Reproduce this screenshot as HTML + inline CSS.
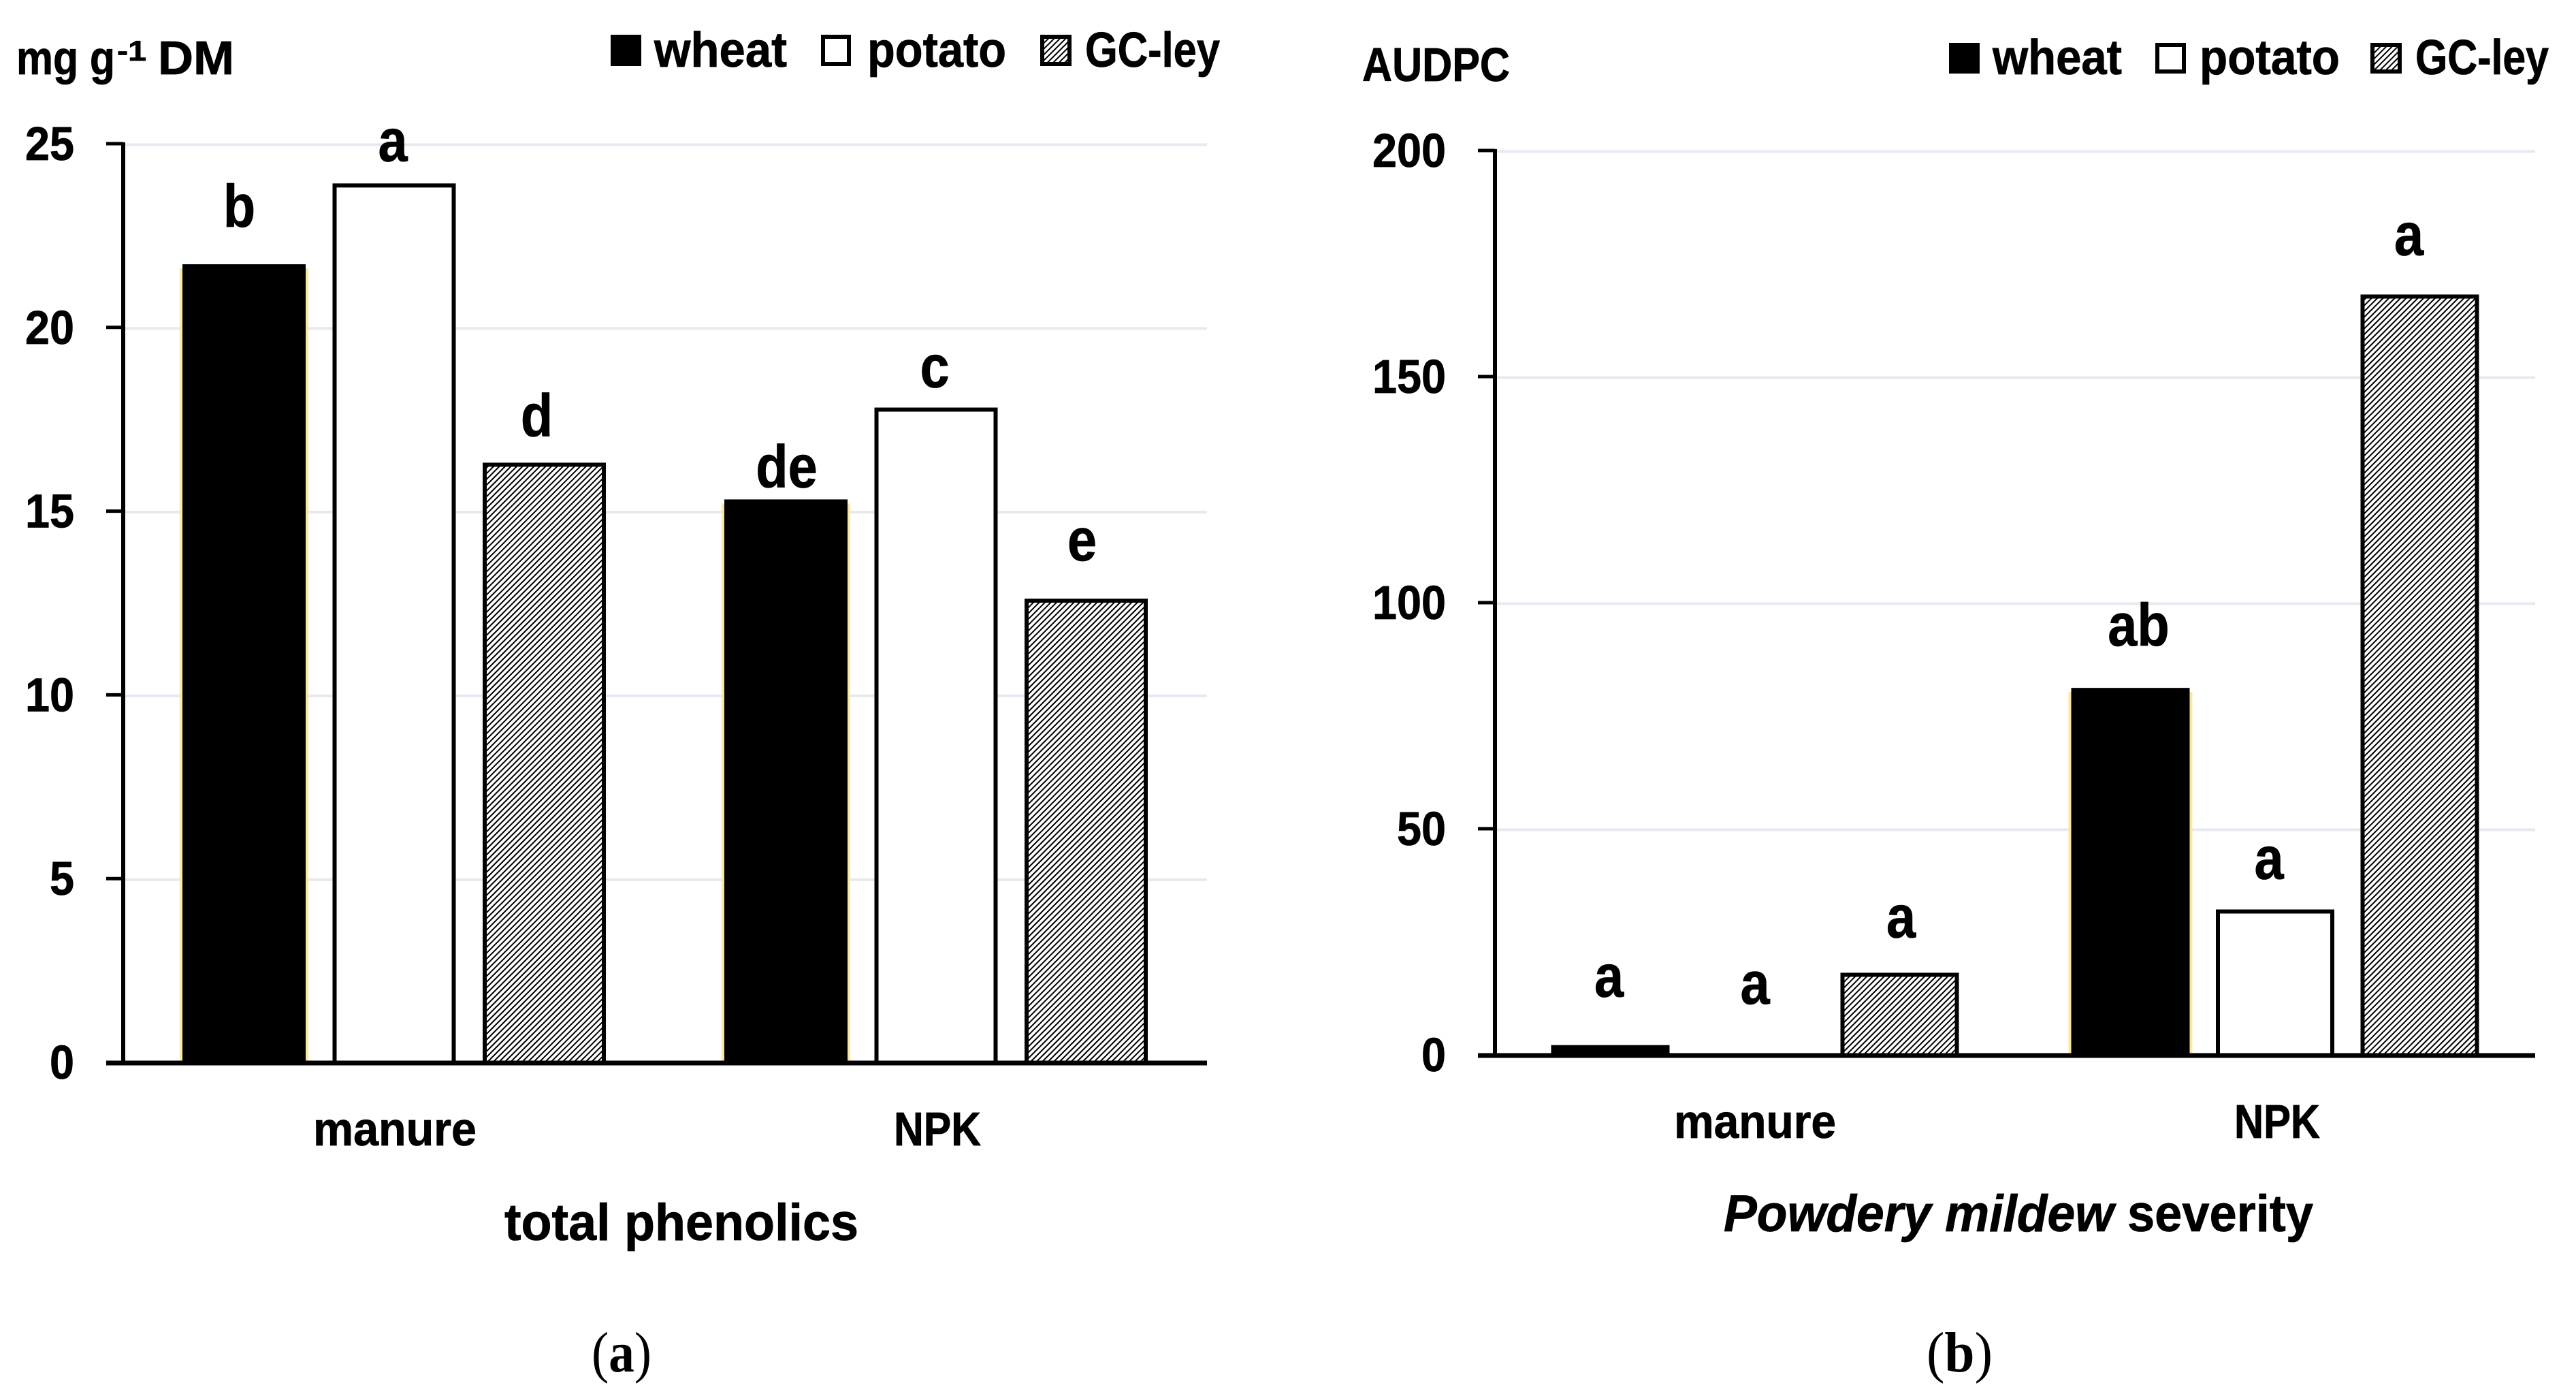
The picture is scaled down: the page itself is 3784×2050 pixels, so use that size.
<!DOCTYPE html>
<html lang="en">
<head>
<meta charset="utf-8">
<title>Total phenolics and powdery mildew severity</title>
<style>
  html, body { margin: 0; padding: 0; background: #fff; width: 3784px; height: 2050px; overflow: hidden; }
  svg { display: block; }
  text { font-family: "Liberation Sans", sans-serif; font-weight: 700; fill: #000; stroke: #000; stroke-width: 0.8px; }
  .cap { font-family: "Liberation Serif", serif; stroke-width: 0; }
</style>
</head>
<body>
<svg id="figure" xmlns="http://www.w3.org/2000/svg" width="3784" height="2050" viewBox="0 0 3784 2050">
  <defs>
    <pattern id="hatch" width="6" height="6" patternUnits="userSpaceOnUse" patternTransform="rotate(-45)">
      <rect width="6" height="6" fill="#fff"/>
      <rect width="6" height="2" fill="#000"/>
    </pattern>
  </defs>
  <rect width="3784" height="2050" fill="#fff"/>

  <g id="panel-a">
    <g>
      <text x="24" y="109" font-size="70" textLength="145" lengthAdjust="spacingAndGlyphs">mg g</text>
      <text x="172" y="89" font-size="42" textLength="43" lengthAdjust="spacingAndGlyphs">-1</text>
      <text x="232" y="109" font-size="70" textLength="112" lengthAdjust="spacingAndGlyphs">DM</text>
    </g>
    <g>
      <rect x="897" y="51" width="45" height="46" fill="#000"/>
      <text x="961" y="98" font-size="72" textLength="195" lengthAdjust="spacingAndGlyphs">wheat</text>
      <rect x="1209" y="54" width="38" height="40" fill="#fff" stroke="#000" stroke-width="6"/>
      <text x="1274" y="98" font-size="72" textLength="204" lengthAdjust="spacingAndGlyphs">potato</text>
      <rect x="1531" y="54" width="40" height="40" fill="url(#hatch)" stroke="#000" stroke-width="6"/>
      <text x="1594" y="98" font-size="72" textLength="198" lengthAdjust="spacingAndGlyphs">GC-ley</text>
    </g>
    <text x="741" y="1821" font-size="76" textLength="520" lengthAdjust="spacingAndGlyphs">total phenolics</text>
    <text class="cap" x="869" y="2014" font-size="84" textLength="88" lengthAdjust="spacingAndGlyphs" style="font-weight:400">(<tspan style="font-weight:700">a</tspan>)</text>
  </g>

  <g id="panel-b">
    <text x="2001" y="119" font-size="70" textLength="217" lengthAdjust="spacingAndGlyphs">AUDPC</text>
    <g>
      <rect x="2863" y="63" width="45" height="45" fill="#000"/>
      <text x="2927" y="109" font-size="72" textLength="190" lengthAdjust="spacingAndGlyphs">wheat</text>
      <rect x="3169" y="66" width="39" height="39" fill="#fff" stroke="#000" stroke-width="6"/>
      <text x="3231" y="109" font-size="72" textLength="206" lengthAdjust="spacingAndGlyphs">potato</text>
      <rect x="3485" y="66" width="40" height="39" fill="url(#hatch)" stroke="#000" stroke-width="6"/>
      <text x="3548" y="109" font-size="72" textLength="196" lengthAdjust="spacingAndGlyphs">GC-ley</text>
    </g>
    <g>
      <text x="2532" y="1808" font-size="76" font-style="italic" textLength="573" lengthAdjust="spacingAndGlyphs">Powdery mildew</text>
      <text x="3125" y="1808" font-size="76" textLength="273" lengthAdjust="spacingAndGlyphs">severity</text>
    </g>
    <text class="cap" x="2830" y="2014" font-size="84" textLength="97" lengthAdjust="spacingAndGlyphs" style="font-weight:400">(<tspan style="font-weight:700">b</tspan>)</text>
  </g>
</svg>

<script>
const categories = ['manure', 'NPK'];
const phenolicsTicks = [0, 5, 10, 15, 20, 25];
const phenolicsWheat = [21.7, 15.3];
const phenolicsPotato = [23.9, 17.8];
const phenolicsLey = [16.3, 12.6];
const mildewTicks = [0, 50, 100, 150, 200];
const mildewWheat = [2, 81];
const mildewPotato = [0, 32];
const mildewLey = [18, 168];

const NS = 'http://www.w3.org/2000/svg';

function make(parent, tag, attrs, content) {
  const el = document.createElementNS(NS, tag);
  for (const key in attrs) el.setAttribute(key, attrs[key]);
  if (content !== undefined) el.textContent = content;
  parent.appendChild(el);
  return el;
}

function drawPanel(cfg) {
  const g = document.getElementById(cfg.id);
  const yScale = v => cfg.y0 - v * (cfg.y0 - cfg.yTop) / cfg.max;
  const catWidth = (cfg.xRight - cfg.xAxis) / categories.length;
  const catCenter = i => cfg.xAxis + catWidth * (i + 0.5);
  const barCenter = (c, s) => catCenter(c) + (s - 1) * cfg.step;

  cfg.ticks.forEach(t => {
    if (t !== 0) {
      const grid = make(g, 'line', { x1: cfg.xAxis, x2: cfg.xRight, y1: yScale(t) + 0.5, y2: yScale(t) + 0.5, stroke: '#e6e9ef', 'stroke-width': 4 });
      
      
    }
    const tick = make(g, 'line', { x1: cfg.xAxis - 25, x2: cfg.xAxis, y1: yScale(t) - 1, y2: yScale(t) - 1, stroke: '#000', 'stroke-width': 5 });
    
    
    const label = make(g, 'text', { x: cfg.tickRight, y: yScale(t) + 23, 'font-size': 70, 'text-anchor': 'end', textLength: String(t).length * 36, lengthAdjust: 'spacingAndGlyphs' }, String(t));
    
    
  });

  const seriesKinds = ['wheat', 'potato', 'gc-ley'];
  cfg.series.forEach((vals, s) => {
    vals.forEach((v, c) => {
      const cx = barCenter(c, s);
      const top = yScale(v) - 2;
      if (s === 0 && cfg.fringe[c]) {
        const fringe = make(g, 'rect', { x: cx - cfg.barW / 2 - 4, y: top + 6, width: cfg.barW + 8, height: Math.max(0, cfg.y0 - top - 6), fill: '#fbe8a0' });
        
        
      }
      const fill = s === 0 ? '#000' : (s === 1 ? '#fff' : 'url(#hatch)');
      const bar = make(g, 'rect', { x: cx - cfg.barW / 2 + 3, y: top + 3, width: cfg.barW - 6, height: Math.max(0, cfg.y0 - top - 3), fill: fill, stroke: '#000', 'stroke-width': 6 });
      
      
    });
  });

  const yAxis = make(g, 'line', { x1: cfg.xAxis, x2: cfg.xAxis, y1: cfg.yTop - 3, y2: cfg.y0, stroke: '#000', 'stroke-width': 6 });
  
  
  const xAxis = make(g, 'line', { x1: cfg.xAxis - 25, x2: cfg.xRight, y1: cfg.y0, y2: cfg.y0, stroke: '#000', 'stroke-width': 7 });
  
  

  categories.forEach((name, c) => {
    const label = make(g, 'text', { x: cfg.catLabelX[c], y: cfg.catLabelY, 'font-size': 70, 'text-anchor': 'middle', textLength: cfg.catLabelW[c], lengthAdjust: 'spacingAndGlyphs' }, name);
    
    
  });

  return function letter(text, c, s, dx, gap) {
    const v = cfg.series[s][c];
    const el = make(g, 'text', { x: barCenter(c, s) + dx, y: yScale(v) - gap, 'font-size': 88, 'text-anchor': 'middle' }, text);
    
    
    el.setAttribute('textLength', (el.getComputedTextLength() * 0.88).toFixed(1));
    el.setAttribute('lengthAdjust', 'spacingAndGlyphs');
  };
}

const letterA = drawPanel({
  id: 'panel-a', xAxis: 181, xRight: 1773, y0: 1561, yTop: 212, max: 25,
  step: 220.5, barW: 181, tickRight: 109, ticks: phenolicsTicks,
  series: [phenolicsWheat, phenolicsPotato, phenolicsLey],
  fringe: [true, true], catLabelX: [580, 1377], catLabelW: [240, 128], catLabelY: 1682
});
letterA('b', 0, 0, -7, 57);
letterA('a', 0, 1, -2, 35);
letterA('d', 0, 2, -11, 41);
letterA('de', 1, 0, 1, 20);
letterA('c', 1, 1, -2, 32);
letterA('e', 1, 2, -6, 58);

const letterB = drawPanel({
  id: 'panel-b', xAxis: 2196, xRight: 3724, y0: 1550, yTop: 222, max: 200,
  step: 212.5, barW: 174, tickRight: 2124, ticks: mildewTicks,
  series: [mildewWheat, mildewPotato, mildewLey],
  fringe: [false, true], catLabelX: [2578, 3345], catLabelW: [238, 126], catLabelY: 1671
});
letterB('a', 0, 0, -2, 73);
letterB('a', 0, 1, 0, 76);
letterB('a', 0, 2, 2, 54);
letterB('ab', 1, 0, 12, 64);
letterB('a', 1, 1, -9, 47);
letterB('a', 1, 2, -16, 60);
</script>
</body>
</html>
